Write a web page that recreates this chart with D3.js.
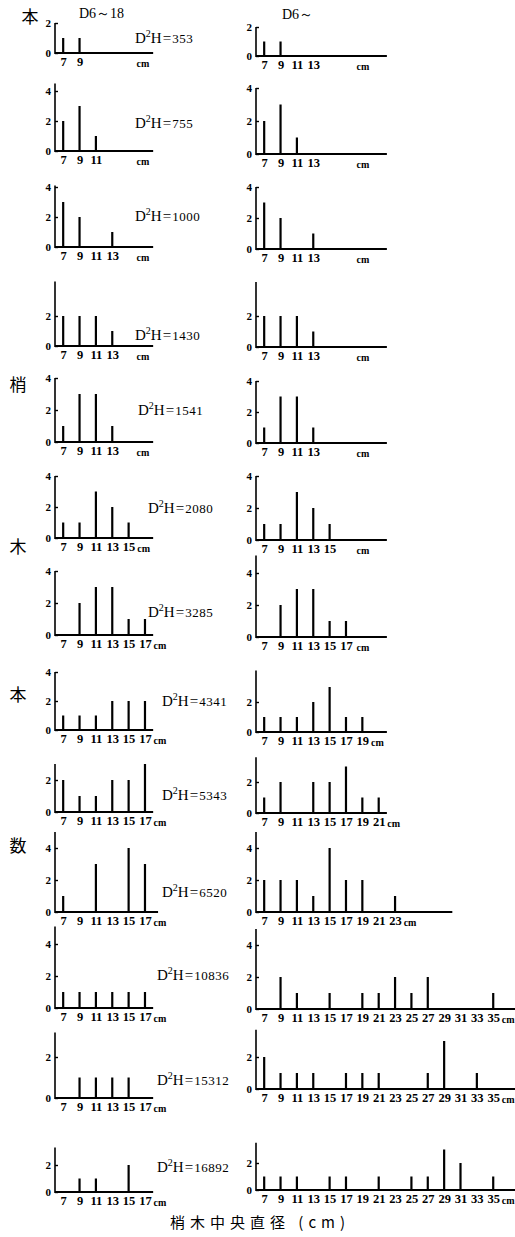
<!DOCTYPE html>
<html>
<head>
<meta charset="utf-8">
<script src="https://cdn.jsdelivr.net/npm/d3@7"></script>
<style>
body { margin: 0; background: #fff; }
</style>
</head>
<body>
<script>
var w = 515;
var h = 1237;

// D2H value of each row
var dhValues = [353, 755, 1000, 1430, 1541, 2080, 3285, 4341, 5343, 6520, 10836, 15312, 16892];

// diameter classes (cm)
var leftDiam = [7, 9, 11, 13, 15, 17];
var rightDiam = [7, 9, 11, 13, 15, 17, 19, 21, 23, 25, 27, 29, 31, 33, 35];

// number of trees per class, D6~18
var leftCounts = [
    [1, 1, 0, 0, 0, 0],
    [2, 3, 1, 0, 0, 0],
    [3, 2, 0, 1, 0, 0],
    [2, 2, 2, 1, 0, 0],
    [1, 3, 3, 1, 0, 0],
    [1, 1, 3, 2, 1, 0],
    [0, 2, 3, 3, 1, 1],
    [1, 1, 1, 2, 2, 2],
    [2, 1, 1, 2, 2, 3],
    [1, 0, 3, 0, 4, 3],
    [1, 1, 1, 1, 1, 1],
    [0, 1, 1, 1, 1, 0],
    [0, 1, 1, 0, 2, 0]
];

// number of trees per class, D6~
var rightCounts = [
    [1, 1, 0, 0, 0, 0, 0, 0, 0, 0, 0, 0, 0, 0, 0],
    [2, 3, 1, 0, 0, 0, 0, 0, 0, 0, 0, 0, 0, 0, 0],
    [3, 2, 0, 1, 0, 0, 0, 0, 0, 0, 0, 0, 0, 0, 0],
    [2, 2, 2, 1, 0, 0, 0, 0, 0, 0, 0, 0, 0, 0, 0],
    [1, 3, 3, 1, 0, 0, 0, 0, 0, 0, 0, 0, 0, 0, 0],
    [1, 1, 3, 2, 1, 0, 0, 0, 0, 0, 0, 0, 0, 0, 0],
    [0, 2, 3, 3, 1, 1, 0, 0, 0, 0, 0, 0, 0, 0, 0],
    [1, 1, 1, 2, 3, 1, 1, 0, 0, 0, 0, 0, 0, 0, 0],
    [1, 2, 0, 2, 2, 3, 1, 1, 0, 0, 0, 0, 0, 0, 0],
    [2, 2, 2, 1, 4, 2, 2, 0, 1, 0, 0, 0, 0, 0, 0],
    [0, 2, 1, 0, 1, 0, 1, 1, 2, 1, 2, 0, 0, 0, 1],
    [2, 1, 1, 1, 0, 1, 1, 1, 0, 0, 1, 3, 0, 1, 0],
    [1, 1, 1, 0, 1, 1, 0, 1, 0, 1, 1, 3, 2, 0, 1]
];

// last x tick label shown in each panel
var leftLastTick = [9, 11, 13, 13, 13, 15, 17, 17, 17, 17, 17, 17, 17];
var rightLastTick = [13, 13, 13, 13, 13, 15, 17, 19, 21, 23, 35, 35, 35];

// y tick labels of each panel
var leftYTicks = [[0, 2], [0, 2, 4], [0, 2, 4], [0, 2], [0, 2, 4], [0, 2, 4], [0, 2, 4],
    [0, 2, 4], [0, 2], [0, 2, 4], [0, 2, 4], [0, 2], [0, 2]];
var rightYTicks = [[0, 2], [0, 2, 4], [0, 2, 4], [0, 2], [0, 2, 4], [0, 2, 4], [0, 2, 4],
    [0, 2], [0, 2], [0, 2, 4], [0, 2, 4], [0, 2], [0, 2]];

// layout: baseline y, y of value 2, axis top (units), x axis end (cm)
var leftLayout = [
    [53, 23, 2, 18], [151, 121, 4.5, 18], [247, 217, 4.1, 18], [346, 316, 4.3, 18],
    [442, 410, 4, 18], [538, 507, 4, 18], [635, 603, 4, 18], [730, 701, 4, 18],
    [812, 780, 3, 18], [912, 880, 5, 18.6], [1008, 976, 5.1, 18], [1098, 1057, 3.2, 18],
    [1192, 1165, 3.3, 18]
];
var rightLayout = [
    [56, 27, 2, 22], [154, 121, 4, 22], [249, 218, 4, 22], [347, 316, 4.2, 22],
    [443, 412, 4, 22], [540, 508, 4, 22], [637, 605, 5.1, 22], [732, 702, 4.1, 22],
    [813, 782, 3.6, 22], [912, 880, 5, 30], [1009, 977, 5, 38], [1089, 1057, 3.7, 38],
    [1190, 1163, 3.5, 38]
];
var dhPos = [[135, 38], [135, 123], [135, 216], [135, 335], [138, 410], [148, 508], [148, 612],
    [162, 701], [162, 795], [162, 892], [157, 975], [157, 1080], [157, 1167]];

var serif = "'Liberation Serif', 'DejaVu Serif', serif";
var cjk = "'Noto Sans CJK JP', 'Noto Sans CJK SC', sans-serif";

var svg = d3.select("body")
    .append("svg")
    .attr("width", w)
    .attr("height", h);

function drawPanel(x0, lay, diam, counts, lastTick, yTicks, cmMin) {
    var x = d3.scaleLinear()
        .domain([6, 18])
        .range([x0, x0 + 12 * 8.18]);
    var y = d3.scaleLinear()
        .domain([0, 2])
        .range([lay[0], lay[1]]);

    var g = svg.append("g");

    // y axis line
    g.append("line")
        .attr("x1", x0).attr("x2", x0)
        .attr("y1", y(0) + 1).attr("y2", y(lay[2]))
        .attr("stroke", "#000")
        .attr("stroke-width", 1.6);

    // x axis line
    g.append("line")
        .attr("x1", x0).attr("x2", x(lay[3]))
        .attr("y1", y(0)).attr("y2", y(0))
        .attr("stroke", "#000")
        .attr("stroke-width", 2);

    var yAxis = d3.axisLeft(y)
        .tickValues(yTicks)
        .tickSizeInner(-3)
        .tickSizeOuter(0)
        .tickPadding(4)
        .tickFormat(d3.format("d"));
    var ya = g.append("g")
        .attr("transform", "translate(" + x0 + ",0)")
        .call(yAxis);
    ya.select(".domain").remove();
    ya.selectAll("line").attr("stroke-width", 1.4);
    ya.selectAll("text")
        .style("font-family", serif)
        .style("font-size", "11px")
        .style("font-weight", "bold");

    var xTicks = diam.filter(function (d) { return d <= lastTick; });
    var xAxis = d3.axisBottom(x)
        .tickValues(xTicks)
        .tickSize(0)
        .tickPadding(4)
        .tickFormat(d3.format("d"));
    var xa = g.append("g")
        .attr("transform", "translate(0," + y(0) + ")")
        .call(xAxis);
    xa.select(".domain").remove();
    xa.selectAll("text")
        .style("font-family", serif)
        .style("font-size", "12.5px")
        .style("font-weight", "bold");

    var cmX = Math.max(x(lastTick) + 15, cmMin);
    g.append("text")
        .attr("x", cmX)
        .attr("y", y(0) + 14)
        .attr("text-anchor", "middle")
        .style("font-family", serif)
        .style("font-size", "10px")
        .style("font-weight", "bold")
        .text("cm");

    // bars
    var bars = diam.map(function (d, i) { return { d: d, n: counts[i] }; })
        .filter(function (b) { return b.n > 0; });
    g.selectAll("line.bar")
        .data(bars)
        .enter()
        .append("line")
        .attr("class", "bar")
        .attr("x1", function (b) { return x(b.d); })
        .attr("x2", function (b) { return x(b.d); })
        .attr("y1", y(0))
        .attr("y2", function (b) { return y(b.n); })
        .attr("stroke", "#000")
        .attr("stroke-width", 2.2);
}

dhValues.forEach(function (v, i) {
    drawPanel(55, leftLayout[i], leftDiam, leftCounts[i], leftLastTick[i], leftYTicks[i], 143);
    drawPanel(256, rightLayout[i], rightDiam, rightCounts[i], rightLastTick[i], rightYTicks[i], 363);

    var t = svg.append("text")
        .attr("x", dhPos[i][0])
        .attr("y", dhPos[i][1] + 5)
        .style("font-family", serif)
        .style("font-size", "15px");
    t.append("tspan").text("D");
    t.append("tspan").attr("dy", -6).style("font-size", "10px").text("2");
    t.append("tspan").attr("dy", 6).text("H");
    t.append("tspan").attr("dx", 1).text("=");
    t.append("tspan").attr("dx", 1).style("font-size", "13px").style("letter-spacing", "0.5px").text(v);
});

// column headers
svg.append("text")
    .attr("x", 79).attr("y", 18)
    .style("font-family", serif)
    .style("font-size", "14px")
    .text("D6～18");
svg.append("text")
    .attr("x", 282).attr("y", 19)
    .style("font-family", serif)
    .style("font-size", "14px")
    .text("D6～");

// vertical label on the left
var sideChars = [["本", 30, 15], ["梢", 18, 383], ["木", 18, 545], ["本", 18, 693], ["数", 18, 844]];
svg.selectAll("text.side")
    .data(sideChars)
    .enter()
    .append("text")
    .attr("class", "side")
    .attr("x", function (d) { return d[1]; })
    .attr("y", function (d) { return d[2]; })
    .attr("text-anchor", "middle")
    .attr("dominant-baseline", "central")
    .style("font-family", cjk)
    .style("font-size", "17px")
    .text(function (d) { return d[0]; });

// bottom title
svg.append("text")
    .attr("x", 260).attr("y", 1228)
    .attr("text-anchor", "middle")
    .style("font-family", cjk)
    .style("font-size", "15px")
    .style("letter-spacing", "5px")
    .text("梢木中央直径 (cm)");
</script>
</body>
</html>
